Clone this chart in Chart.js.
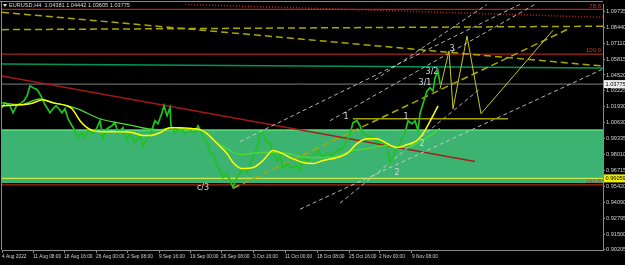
<!DOCTYPE html>
<html>
<head>
<meta charset="utf-8">
<script src="https://cdn.jsdelivr.net/npm/chart.js@4.4.0/dist/chart.umd.min.js"></script>
<style>
  html, body { margin: 0; padding: 0; background: #000; }
  #wrap { width: 625px; height: 265px; }
</style>
</head>
<body>
<div id="wrap"><canvas id="chart"></canvas></div>
<script>
// header quote
const symbol = "EURUSD,H4";
const quote = [1.04381, 1.04442, 1.03605, 1.03775];

// bar index (H4 bars) and close price
const priceIdx = [0,3,8,11,15,18,22,25,28,31,34,36,40,43,45,48,51,54,56,60,63,66,70,73,76,80,83,86,91,95,98,101,105,110,113,116,121,125,128,133,138,141,145,148,153,156,160,162,165,168,169,173,178,183,188,193,196,200,205,208,211,215,218,221,225,228,231,235,238,242,245,250,255,258,261,265,268,271,275,278,281,285,290,295,298,301,306,311,316,320,325,330,335,340,345,348,351,355,358,361,365,370,375,380,385,388,391,395,398,403,406,410,413,416,418,421,425,428,431,433,436,438];
const priceVal = [1.0184,1.0224,1.0200,1.0143,1.0208,1.0216,1.0241,1.0281,1.0363,1.0347,1.0338,1.0322,1.0265,1.0208,1.0184,1.0143,1.0176,1.0200,1.0184,1.0143,1.0176,1.0094,1.0037,0.9997,0.9940,0.9980,0.9940,0.9997,0.9972,1.0021,1.0078,0.9931,1.0013,1.0037,1.0062,0.9980,1.0021,0.9915,0.9980,0.9899,0.9956,0.9874,0.9931,0.9956,1.0078,1.0053,1.0143,1.0200,1.0119,1.0184,1.0037,0.9980,1.0013,0.9972,0.9997,0.9980,1.0037,0.9972,0.9899,0.9818,0.9810,0.9712,0.9671,0.9614,0.9647,0.9590,0.9533,0.9614,0.9647,0.9687,0.9655,0.9752,0.9858,0.9972,0.9980,0.9891,0.9899,0.9810,0.9752,0.9793,0.9695,0.9728,0.9687,0.9712,0.9671,0.9777,0.9752,0.9793,0.9834,0.9777,0.9810,0.9793,0.9834,0.9850,0.9915,0.9972,1.0062,1.0078,1.0037,0.9972,0.9956,0.9940,0.9899,0.9915,0.9858,0.9736,0.9777,0.9850,0.9899,0.9980,1.0078,1.0053,1.0078,0.9997,1.0135,1.0216,1.0322,1.0347,1.0322,1.0428,1.0485,1.0379];

// moving averages
const maYellowIdx = [0,18,28,41,51,65,70,78,85,91,98,111,121,131,141,148,158,168,178,191,198,205,215,225,231,240,251,261,271,278,288,301,311,321,335,345,355,365,375,385,395,405,415,421,431,436];
const maYellowVal = [1.0200,1.0208,1.0216,1.0249,1.0224,1.0200,1.0176,1.0078,1.0021,0.9997,0.9988,0.9988,0.9988,0.9980,0.9956,0.9956,0.9980,1.0021,1.0021,1.0013,1.0005,0.9972,0.9891,0.9810,0.9736,0.9687,0.9695,0.9752,0.9834,0.9818,0.9777,0.9736,0.9728,0.9752,0.9777,0.9810,0.9891,0.9931,0.9931,0.9891,0.9858,0.9883,0.9915,0.9972,1.0119,1.0200];
const maGreenIdx = [0,18,38,48,65,75,98,115,131,145,158,171,188,201,211,225,238,261,278,305,328,351,365,385,405,418,431,438];
const maGreenVal = [1.0224,1.0208,1.0257,1.0232,1.0200,1.0176,1.0094,1.0062,1.0037,1.0013,1.0005,1.0021,1.0005,0.9997,0.9923,0.9850,0.9801,0.9818,0.9818,0.9777,0.9777,0.9834,0.9850,0.9874,0.9858,0.9907,0.9972,1.0013];

// projected zigzag
const zigzagIdx = [438,447,451,465,479,551];
const zigzagVal = [1.0338,1.0648,1.0176,1.0770,1.0135,1.0818];

// levels
const fibRatios = ["78.6", "100.0", "161.8"];
const fibPrices = [1.0989, 1.0623, 0.9553];
const zoneTop = 1.0009, zoneBottom = 0.9569;
const parity = 1.0000;
const alertLevel = 0.96059;
const bidLevel = 1.03775;

// trend lines: [idx0, price0, idx1, price1]
const redTrend = [0, 1.0444, 473, 0.9744];
const redDotted = [183, 1.1030, 601, 1.0924];
const greenSlope = [0, 1.0542, 601, 1.0510];
const yellowDashed = [[0, 1.0823, 601, 1.0851], [0, 1.0965, 601, 1.0525], [231, 0.9525, 568, 1.0835]];
const oliveFlat = [351, 1.0094, 506, 1.0094];
const whiteDashed = [[238, 0.9907, 518, 1.1030], [298, 0.9354, 601, 1.0501], [328, 1.0078, 533, 1.1030], [338, 0.9403, 478, 1.0338], [373, 1.0412, 485, 1.1030]];

// wave labels
const waveText = ["c/3", "1", "2", "1", "2", "3/1", "3/2", "3"];
const waveIdx = [201, 344, 395, 404, 420, 423, 430, 450];
const waveVal = [0.9525, 1.0110, 0.9647, 1.0110, 0.9891, 1.0387, 1.0477, 1.0664];

// axis ticks
const xTickPos = [0, 31, 62, 94, 125, 157, 188, 219, 251, 283, 315, 347, 377, 410];
const xTickLabels = ["4 Aug 2022", "11 Aug 08:00", "18 Aug 16:00", "26 Aug 00:00", "2 Sep 08:00", "9 Sep 16:00", "19 Sep 00:00", "26 Sep 08:00", "3 Oct 16:00", "11 Oct 00:00", "18 Oct 08:00", "25 Oct 16:00", "2 Nov 00:00", "9 Nov 08:00"];
const yTicks = [1.09735, 1.08440, 1.07110, 1.05815, 1.04520, 1.03225, 1.01930, 1.00630, 0.99335, 0.98010, 0.96715, 0.95420, 0.94090, 0.92795, 0.91500, 0.90205];

const pts = (xs, ys) => xs.map((x, i) => ({ x: x, y: ys[i] }));
const seg = s => [{ x: s[0], y: s[1] }, { x: s[2], y: s[3] }];
const flat = v => [{ x: 0, y: v }, { x: 601, y: v }];
const line = (data, color, width, order, extra) =>
  Object.assign({ data: data, borderColor: color, borderWidth: width, pointRadius: 0, fill: false, tension: 0, order: order }, extra || {});

const datasets = [
  line(pts(maYellowIdx, maYellowVal), "#ffff00", 1.5, 0, { cubicInterpolationMode: "monotone" }),
  line(pts(maGreenIdx, maGreenVal), "#4bdc32", 1.3, 1, { cubicInterpolationMode: "monotone" }),
  line(pts(priceIdx, priceVal), "#1fc21f", 1.7, 2),
  line(pts(zigzagIdx, zigzagVal), "#c8c81e", 1, 1),
  line(seg(oliveFlat), "#a0a000", 1.5, 3),
  line(seg(redTrend), "rgba(170,25,25,0.95)", 1.4, 4),
  line(seg(redDotted), "#c81e1e", 1.5, 5, { borderDash: [1, 2] }),
  line(seg(greenSlope), "#00965a", 1.5, 5),
  line(flat(bidLevel), "#808080", 1, 6),
  line(flat(parity), "#5ae678", 1, 6),
  line(flat(alertLevel), "#c8e650", 1.3, 6),
];
yellowDashed.forEach(s => datasets.push(line(seg(s), "#a8a800", 1.5, 4, { borderDash: [7, 4] })));
whiteDashed.forEach(s => datasets.push(line(seg(s), "rgba(210,210,210,0.85)", 1, 3, { borderDash: [4, 3] })));
fibPrices.forEach(p => datasets.push(line(flat(p), "#aa2814", 1.2, 7)));
datasets.push({
  data: flat(zoneTop), borderWidth: 0, pointRadius: 0, backgroundColor: "#3cb371",
  fill: { value: zoneBottom }, order: 20
});

const overlay = {
  id: "overlay",
  beforeDraw(chart) {
    const c = chart.ctx;
    c.save();
    c.fillStyle = "#000";
    c.fillRect(0, 0, chart.width, chart.height);
    c.restore();
  },
  afterDatasetsDraw(chart) {
    const c = chart.ctx, x = chart.scales.x, y = chart.scales.y;
    c.save();
    c.font = "8px 'DejaVu Sans'";
    c.fillStyle = "#d8d8d8";
    c.textAlign = "center";
    c.textBaseline = "middle";
    waveText.forEach((t, i) => c.fillText(t, x.getPixelForValue(waveIdx[i]), y.getPixelForValue(waveVal[i])));
    c.font = "6px 'Liberation Sans'";
    c.fillStyle = "#d23a1e";
    c.textAlign = "right";
    c.textBaseline = "bottom";
    fibRatios.forEach((t, i) => c.fillText(t, chart.chartArea.right - 2, y.getPixelForValue(fibPrices[i]) - 0.5));
    c.restore();
  },
  afterDraw(chart) {
    const c = chart.ctx, y = chart.scales.y, a = chart.chartArea;
    c.save();
    // frame
    c.strokeStyle = "#8a8a8a";
    c.lineWidth = 1;
    c.beginPath();
    c.moveTo(0, 1.5); c.lineTo(a.right, 1.5);
    c.moveTo(1.5, 1.5); c.lineTo(1.5, a.bottom);
    c.stroke();
    // header
    c.fillStyle = "#e0e0e0";
    c.beginPath();
    c.moveTo(3, 4); c.lineTo(7, 4); c.lineTo(5, 7); c.closePath();
    c.fill();
    c.font = "5.6px 'Liberation Sans'";
    c.textAlign = "left";
    c.textBaseline = "middle";
    c.fillStyle = "#d8d8d8";
    c.fillText(symbol + "  " + quote.map(v => v.toFixed(5)).join(" "), 9, 5.5);
    // price boxes on the axis
    const tag = (v, bg) => {
      const py = y.getPixelForValue(v);
      c.fillStyle = bg;
      c.fillRect(604, py - 4, 21, 8);
      c.fillStyle = "#000";
      c.fillText(v.toFixed(5), 605.5, py + 0.3);
    };
    tag(bidLevel, "#f0f0f0");
    tag(alertLevel, "#f0f000");
    c.restore();
  }
};

new Chart(document.getElementById("chart"), {
  type: "line",
  data: { datasets: datasets },
  options: {
    responsive: true,
    maintainAspectRatio: false,
    animation: false,
    events: [],
    layout: { padding: { left: 2, top: 3, right: 0, bottom: 0 } },
    plugins: { legend: { display: false }, tooltip: { enabled: false } },
    scales: {
      x: {
        type: "linear",
        min: 0,
        max: 601,
        afterBuildTicks: s => { s.ticks = xTickPos.map(v => ({ value: v })); },
        afterFit: s => { s.height = 15; },
        grid: { drawOnChartArea: false, tickLength: 3, color: "#8a8a8a" },
        border: { color: "#8a8a8a" },
        ticks: {
          align: "start",
          autoSkip: false,
          maxRotation: 0,
          padding: 1,
          color: "#d0d0d0",
          font: { size: 4.8, family: "'Liberation Sans'" },
          callback: (v, i) => xTickLabels[i]
        }
      },
      y: {
        type: "linear",
        position: "right",
        min: 0.902,
        max: 1.103,
        afterBuildTicks: s => { s.ticks = yTicks.map(v => ({ value: v })); },
        afterFit: s => { s.width = 22; },
        grid: { drawOnChartArea: false, tickLength: 2, color: "#8a8a8a" },
        border: { color: "#8a8a8a" },
        ticks: {
          autoSkip: false,
          padding: 1,
          color: "#d0d0d0",
          font: { size: 5.6, family: "'Liberation Sans'" },
          callback: v => v.toFixed(5)
        }
      }
    }
  },
  plugins: [overlay]
});
</script>
</body>
</html>
